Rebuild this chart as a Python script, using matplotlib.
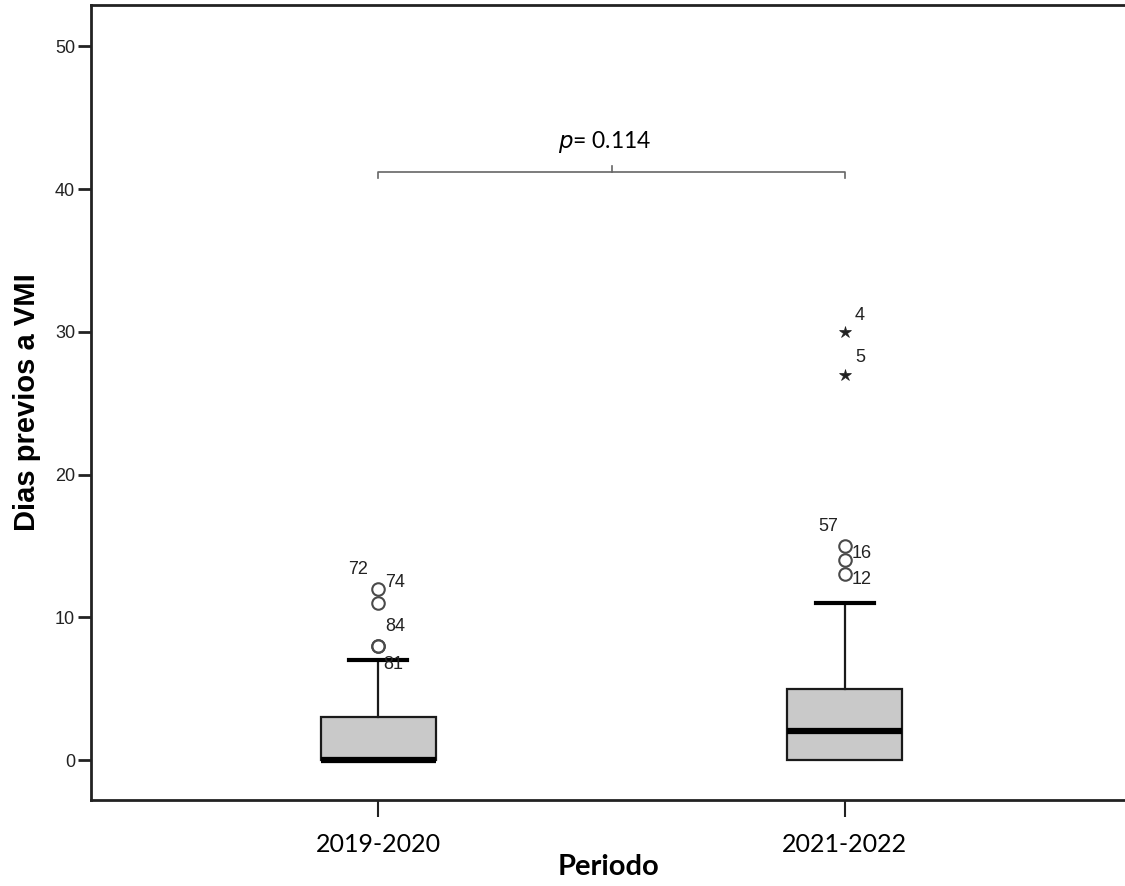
import matplotlib
matplotlib.use("Agg")
import matplotlib.pyplot as plt

# ---- data ----
periods = ["2019-2020", "2021-2022"]
q1 = [0, 0]
median = [0, 2]
q3 = [3, 5]
whisker_low = [0, 0]
whisker_high = [7, 11]
# outliers (circles): (period index, value, case label)
outlier_period = [0, 0, 0, 0, 1, 1, 1]
outlier_value = [12, 11, 8, 8, 15, 14, 13]
outlier_case = ["72", "74", "84", "81", "57", "16", "12"]
# extreme values (stars)
extreme_period = [1, 1]
extreme_value = [30, 27]
extreme_case = ["4", "5"]
# label offsets in pixels for case numbers
outlier_offset = [(-20, 19), (17, 21), (17, 19), (15, -19), (-17, 19), (17, 7), (17, -5)]
extreme_offset = [(15, 16), (15, 17)]
p_text = "0.114"
bracket_y = 41.2
y_ticks = [0, 10, 20, 30, 40, 50]

arial = ["Liberation Sans", "DejaVu Sans"]
calib = ["Lato", "DejaVu Sans"]

fig = plt.figure(figsize=(11.25, 8.86), dpi=100)
ax = fig.add_axes([91 / 1125, 86 / 886, 1034 / 1125, (800 - 5) / 886])

positions = [1, 2]
stats = []
for i in range(len(periods)):
    stats.append(dict(q1=q1[i], med=median[i], q3=q3[i],
                      whislo=whisker_low[i], whishi=whisker_high[i],
                      fliers=[], label=periods[i]))

parts = ax.bxp(stats, positions=positions, widths=0.246, patch_artist=True,
               showfliers=False,
               boxprops=dict(facecolor="#c9c9c9", edgecolor="#1a1a1a", linewidth=1.6),
               medianprops=dict(color="black", linewidth=4.5, solid_capstyle="butt"),
               whiskerprops=dict(color="#1a1a1a", linewidth=1.6),
               capprops=dict(color="black", linewidth=3),
               capwidths=0.125)
# lower caps sit underneath the box edge at zero
for cap in parts["caps"][0::2]:
    cap.set_zorder(1)
    cap.set_color("#bbbbbb")
    cap.set_linewidth(1.5)

for p, v, c, off in zip(outlier_period, outlier_value, outlier_case, outlier_offset):
    ax.plot(positions[p], v, marker="o", markersize=9, markerfacecolor="none",
            markeredgecolor="#4a4a4a", markeredgewidth=1.5, linestyle="none")
    ax.annotate(c, (positions[p], v), xytext=off, textcoords="offset pixels",
                ha="center", va="center", fontsize=13, family=arial, color="#222222")

for p, v, c, off in zip(extreme_period, extreme_value, extreme_case, extreme_offset):
    ax.plot(positions[p], v, marker="*", markersize=9, color="#222222",
            markeredgewidth=0.5, linestyle="none")
    ax.annotate(c, (positions[p], v), xytext=off, textcoords="offset pixels",
                ha="center", va="center", fontsize=13, family=arial, color="#222222")

# significance bracket
bx = [positions[0], positions[0], positions[1], positions[1]]
by = [bracket_y - 0.45, bracket_y, bracket_y, bracket_y - 0.45]
ax.plot(bx, by, color="#666666", linewidth=1.2)
mid = (positions[0] + positions[1]) / 2
ax.plot([mid, mid], [bracket_y, bracket_y + 0.4], color="#666666", linewidth=1.2)
ax.text(mid - 0.015, bracket_y + 2.1, r"$\it{p}$= " + p_text, ha="center", va="center",
        fontsize=16.5, family=calib)

ax.set_xlim(0.385, 2.6)
ax.set_ylim(-2.8, 52.9)
ax.set_yticks(y_ticks)
ax.set_yticklabels([str(t) for t in y_ticks], family=arial, fontsize=13,
                   color="#222222")
ax.set_xticks(positions)
ax.set_xticklabels(periods, family=calib, fontsize=18)

ax.tick_params(axis="y", length=9.5, width=2, pad=2, color="#222222")
ax.tick_params(axis="x", length=12, width=1.5, pad=12, color="#222222")
for s in ["left", "top", "bottom"]:
    ax.spines[s].set_linewidth(2)
    ax.spines[s].set_color("#222222")
ax.spines["right"].set_visible(False)

ax.set_ylabel("Dias previos a VMI", family=arial, fontsize=21, fontweight="bold",
              labelpad=10)
ax.set_xlabel("Periodo", family=calib, fontsize=21, fontweight="bold", labelpad=-2)

fig.savefig("out.png", dpi=100)
